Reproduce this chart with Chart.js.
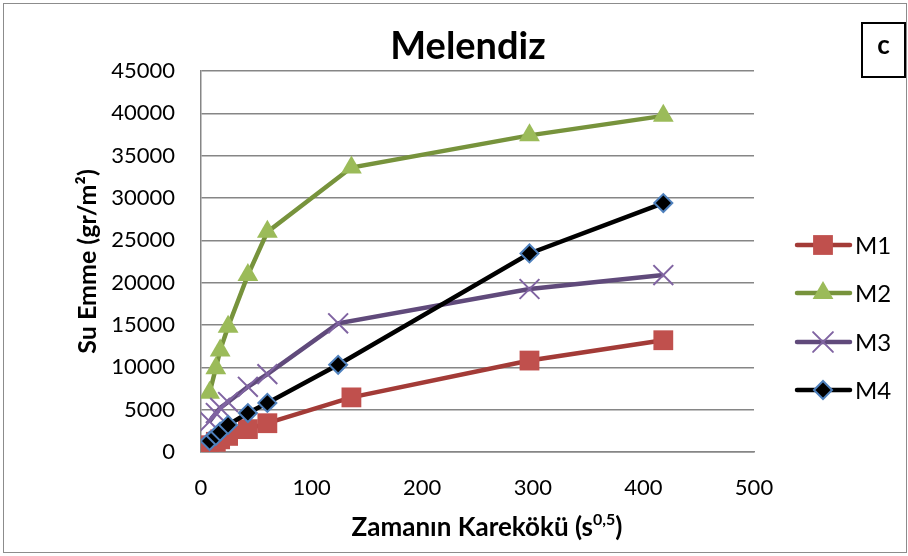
<!DOCTYPE html>
<html>
<head>
<meta charset="utf-8">
<script src="https://cdn.jsdelivr.net/npm/chart.js@4.4.1/dist/chart.umd.min.js"></script>
<style>
  body { margin: 0; background: #fff; }
  #wrap { width: 908px; height: 556px; position: relative; }
</style>
</head>
<body>
<div id="wrap"><canvas id="chart"></canvas></div>
<script>
// values (x = square root of time, y = water absorption)
const seriesNames = ['M1', 'M2', 'M3', 'M4'];
const xM1 = [7.75, 13.4, 17.3, 24.5, 42.4, 60, 136, 297, 418];
const yM1 = [800, 1200, 1500, 1900, 2700, 3400, 6450, 10800, 13200];
const xM2 = [7.75, 13.4, 17.3, 24.5, 42.4, 60, 136, 297, 418];
const yM2 = [7000, 9900, 12000, 14800, 20900, 26000, 33600, 37400, 39700];
const xM3 = [7.75, 13.4, 17.3, 24.5, 42.4, 60, 124, 297, 418];
const yM3 = [3600, 4600, 5200, 5900, 7700, 9200, 15200, 19250, 20900];
const xM4 = [7.75, 13.4, 17.3, 24.5, 42.4, 60, 124, 297, 418];
const yM4 = [1300, 1900, 2400, 3200, 4600, 5800, 10300, 23450, 29400];
const yTicks = [0, 5000, 10000, 15000, 20000, 25000, 30000, 35000, 40000, 45000];
const xTicks = [0, 100, 200, 300, 400, 500];

const toPoints = (xs, ys) => xs.map((x, i) => ({ x: x, y: ys[i] }));
const gridGrey = '#868686';

const datasets = [
    { label: seriesNames[0], data: toPoints(xM1, yM1), borderColor: '#A33B37', backgroundColor: '#C0504D',
      pointBorderColor: '#C0504D', pointStyle: 'rect', pointRadius: 14, pointBorderWidth: 0, order: 3 },
    { label: seriesNames[1], data: toPoints(xM2, yM2), borderColor: '#77933C', backgroundColor: '#9BBB59',
      pointBorderColor: '#9BBB59', pointStyle: 'triangle', pointRadius: 12, pointBorderWidth: 0, order: 2 },
    { label: seriesNames[2], data: toPoints(xM3, yM3), borderColor: '#604A7B', backgroundColor: '#8064A2',
      pointBorderColor: '#8064A2', pointStyle: 'crossRot', pointRadius: 14, pointBorderWidth: 2, order: 1 },
    { label: seriesNames[3], data: toPoints(xM4, yM4), borderColor: '#000000', backgroundColor: '#000000',
      pointBorderColor: '#4F81BD', pointStyle: 'rectRot', pointRadius: 9, pointBorderWidth: 2, order: 0 }
];
datasets.forEach(d => {
    d.borderWidth = 4.5;
    d.pointBackgroundColor = d.backgroundColor;
    d.pointHoverRadius = d.pointRadius;
    d.tension = 0;
});

// frame, title, "c" box, x title with superscript and the legend
const decor = {
    id: 'decor',
    afterDraw(chart) {
        const ctx = chart.ctx;
        ctx.save();
        ctx.strokeStyle = '#8c8c8c';
        ctx.lineWidth = 1;
        ctx.strokeRect(3.5, 3.5, 903, 549);

        ctx.fillStyle = '#000';
        ctx.font = 'bold 38px Lato';
        ctx.textAlign = 'center';
        ctx.textBaseline = 'middle';
        ctx.fillText('Melendiz', 468, 47);

        ctx.fillStyle = '#fff';
        ctx.fillRect(862, 23, 43, 54);
        ctx.strokeStyle = '#000';
        ctx.lineWidth = 2;
        ctx.strokeRect(862, 23, 43, 54);
        ctx.fillStyle = '#000';
        ctx.font = 'bold 26px Lato';
        ctx.fillText('c', 883.5, 46);

        // x axis title
        const main = 'Zamanın Karekökü (s';
        const sup = '0,5';
        ctx.font = 'bold 26px Lato';
        const w1 = ctx.measureText(main).width;
        const w3 = ctx.measureText(')').width;
        ctx.font = 'bold 16px Lato';
        const w2 = ctx.measureText(sup).width;
        let x0 = 487 - (w1 + w2 + w3) / 2;
        ctx.textAlign = 'left';
        ctx.textBaseline = 'alphabetic';
        ctx.font = 'bold 26px Lato';
        ctx.fillText(main, x0, 536);
        ctx.font = 'bold 16px Lato';
        ctx.fillText(sup, x0 + w1, 525);
        ctx.font = 'bold 26px Lato';
        ctx.fillText(')', x0 + w1 + w2, 536);

        // legend
        const legY = [245, 293, 342, 390];
        chart.data.datasets.forEach((d, i) => {
            const y = legY[i];
            ctx.strokeStyle = d.borderColor;
            ctx.lineWidth = 4.5;
            ctx.lineCap = 'round';
            ctx.beginPath();
            ctx.moveTo(797, y);
            ctx.lineTo(850, y);
            ctx.stroke();
            ctx.fillStyle = d.pointBackgroundColor;
            ctx.strokeStyle = d.pointBorderColor;
            ctx.lineWidth = d.pointBorderWidth;
            Chart.helpers.drawPoint(ctx, { pointStyle: d.pointStyle, radius: d.pointRadius, borderWidth: d.pointBorderWidth }, 823, y);
            ctx.fillStyle = '#000';
            ctx.font = '24px Lato';
            ctx.textAlign = 'left';
            ctx.textBaseline = 'middle';
            ctx.fillText(d.label, 855, y + 1);
        });
        ctx.restore();
    }
};

new Chart(document.getElementById('chart'), {
    type: 'line',
    data: { datasets: datasets },
    plugins: [decor],
    options: {
        responsive: true,
        maintainAspectRatio: false,
        animation: false,
        layout: { padding: { top: 71, right: 154, left: 0, bottom: 0 } },
        plugins: { legend: { display: false }, tooltip: { enabled: false } },
        scales: {
            x: {
                type: 'linear',
                min: 0, max: 500,
                afterBuildTicks: s => { s.ticks = xTicks.map(v => ({ value: v })); },
                afterFit: s => { s.height = 104; },
                grid: { display: false, drawTicks: false },
                border: { display: true, color: gridGrey, width: 1.5 },
                ticks: { padding: 23, color: '#000', font: { family: 'Lato', size: 22 } }
            },
            y: {
                min: 0, max: 45000,
                afterBuildTicks: s => { s.ticks = yTicks.map(v => ({ value: v })); },
                afterFit: s => { s.width = 201; },
                grid: { color: gridGrey, lineWidth: 1.5, drawTicks: false },
                border: { display: true, color: gridGrey, width: 1.5 },
                ticks: { padding: 26, color: '#000', font: { family: 'Lato', size: 22 }, callback: v => String(v) },
                title: { display: true, text: 'Su Emme (gr/m²)', color: '#000',
                         font: { family: 'Lato', size: 25, weight: 'bold' }, padding: { top: 73, bottom: 0 } }
            }
        }
    }
});
</script>
</body>
</html>
